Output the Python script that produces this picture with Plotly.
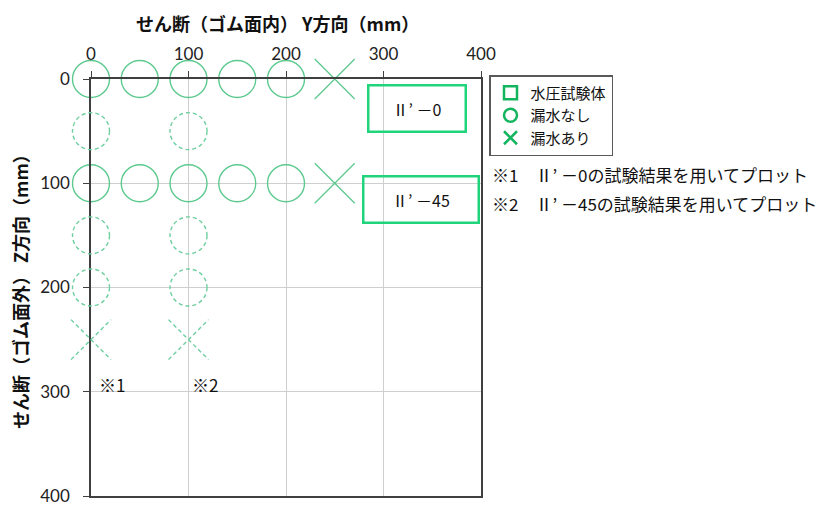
import plotly.graph_objects as go

# ---------------- data ----------------
tick_vals = [0, 100, 200, 300, 400]

# solid circles: no leak (measured)
ok_x = [0, 50, 100, 150, 200, 0, 50, 100, 150, 200]
ok_y = [0, 0, 0, 0, 0, 100, 100, 100, 100, 100]
# solid crosses: leak (measured)
leak_x = [250, 250]
leak_y = [0, 100]
# dashed circles: no leak (plotted from test results)
ok_ref_x = [0, 0, 0, 100, 100, 100]
ok_ref_y = [50, 150, 200, 50, 150, 200]
# dashed crosses: leak (plotted from test results)
leak_ref_x = [0, 100]
leak_ref_y = [250, 250]
# specimen boxes
box_labels = ["Ⅱ’ －0", "Ⅱ’ －45"]
box_x = [334, 338]
box_y = [28.5, 116]
box_w = [95, 113]
# reference marks
ref_labels = ["※1", "※2"]
ref_x = [6, 102]
ref_y = [293, 293]
# notes
notes = ["※1　Ⅱ’ －0の試験結果を用いてプロット", "※2　Ⅱ’ －45の試験結果を用いてプロット"]
legend_names = ["水圧試験体", "漏水なし", "漏水あり"]
x_title = "せん断（ゴム面内） Y方向（mm）"
y_title = "せん断（ゴム面外） Z方向（mm）"

# ---------------- layout geometry (pixels, page coordinates) ----------------
OFF = 8                      # default page body margin around the figure
W, H = 824 - OFF, 507 - OFF  # figure size so that it fills the window
L, R, T, B = 91 - OFF, 481 - OFF, 79 - OFF, 496 - OFF
kx = 400 / (R - L)
ky = 400 / (B - T)


def px(p):
    return (p - OFF) / W


def py(p):
    return 1 - (p - OFF) / H


C_MARK = "#5cc98e"
C_DASH = "#6fcfa0"
C_BOX = "#1fd47a"
C_LEG = "#12b45e"
JP = "Noto Sans CJK JP"
SANS = "Lato, Noto Sans CJK JP"

fig = go.Figure()

fig.add_trace(go.Scatter(x=ok_x, y=ok_y, mode="markers", showlegend=False, cliponaxis=False,
                         hoverinfo="skip",
                         marker=dict(symbol="circle-open", size=37, color=C_MARK,
                                     line=dict(width=1.4, color=C_MARK))))
fig.add_trace(go.Scatter(x=leak_x, y=leak_y, mode="markers", showlegend=False, cliponaxis=False,
                         hoverinfo="skip",
                         marker=dict(symbol="x-thin-open", size=40, color=C_MARK,
                                     line=dict(width=1.3, color=C_MARK))))

# legend-only entries
for name, sym in zip(legend_names, ["square-open", "circle-open", "x-thin-open"]):
    fig.add_trace(go.Scatter(x=[None], y=[None], mode="markers", name=name,
                             marker=dict(symbol=sym, size=13, color=C_LEG,
                                         line=dict(width=2.5, color=C_LEG))))

# helper (invisible) full-figure axes so that dashed marks are not clipped
fig.add_trace(go.Scatter(x=[None], y=[None], xaxis="x2", yaxis="y2", showlegend=False,
                         hoverinfo="skip"))

shapes = []
for xv, yv in zip(ok_ref_x, ok_ref_y):
    shapes.append(dict(type="circle", xref="x2", yref="y2", xsizemode="pixel", ysizemode="pixel",
                       xanchor=xv, yanchor=yv, x0=-18.5, x1=18.5, y0=-18.5, y1=18.5,
                       line=dict(color=C_DASH, width=1.4, dash="4px,3px")))
for xv, yv in zip(leak_ref_x, leak_ref_y):
    for s in (1, -1):
        shapes.append(dict(type="line", xref="x2", yref="y2", xsizemode="pixel", ysizemode="pixel",
                           xanchor=xv, yanchor=yv, x0=-20, x1=20, y0=-20 * s, y1=20 * s,
                           line=dict(color=C_DASH, width=1.4, dash="4px,3px")))

annotations = []
for lab, xv, yv, w in zip(box_labels, box_x, box_y, box_w):
    annotations.append(dict(x=xv, y=yv, xref="x", yref="y", text=lab, showarrow=False,
                            font=dict(family=JP, size=16, color="#111"),
                            bordercolor=C_BOX, borderwidth=2.5, borderpad=0,
                            width=w, height=44, bgcolor="rgba(0,0,0,0)"))
for lab, xv, yv in zip(ref_labels, ref_x, ref_y):
    annotations.append(dict(x=xv, y=yv, xref="x", yref="y", text=lab, showarrow=False,
                            xanchor="left", font=dict(family=JP, size=17, color="#111")))
for i, t in enumerate(notes):
    annotations.append(dict(x=px(490), y=py(174 + 29 * i), xref="paper", yref="paper",
                            text=t, showarrow=False, xanchor="left", yanchor="middle",
                            font=dict(family=JP, size=17, color="#111")))
annotations.append(dict(x=px(277), y=py(23), xref="paper", yref="paper",
                        text="<b>" + x_title + "</b>", showarrow=False,
                        xanchor="center", yanchor="middle",
                        font=dict(family=JP, size=18, color="#111")))
annotations.append(dict(x=px(20), y=py(287), xref="paper", yref="paper",
                        text="<b>" + y_title + "</b>", showarrow=False, textangle=-90,
                        xanchor="center", yanchor="middle",
                        font=dict(family=JP, size=18, color="#111")))

axis_common = dict(tickvals=tick_vals, ticks="outside", ticklen=6, tickcolor="#404040",
                   showgrid=True, gridcolor="#cfcfcf", gridwidth=1, showline=True,
                   linecolor="#404040", linewidth=1.5, mirror=True, zeroline=False,
                   automargin=False, tickfont=dict(family=SANS, size=17, color="#222"))

fig.update_layout(
    width=W, height=H,
    margin=dict(l=0, r=0, t=0, b=0, autoexpand=False),
    paper_bgcolor="white", plot_bgcolor="rgba(0,0,0,0)",
    shapes=shapes, annotations=annotations,
    xaxis=dict(side="top", range=[0, 400], domain=[L / W, R / W], anchor="y",
               ticklabelstandoff=4, **axis_common),
    yaxis=dict(range=[400, 0], domain=[1 - B / H, 1 - T / H], anchor="x",
               ticklabelstandoff=10, **axis_common),
    xaxis2=dict(domain=[0, 1], range=[-L * kx, 400 + (W - R) * kx], visible=False,
                anchor="y2", fixedrange=True),
    yaxis2=dict(domain=[0, 1], range=[400 + (H - B) * ky, -T * ky], visible=False,
                anchor="x2", fixedrange=True),
    legend=dict(x=px(489), y=py(75), xanchor="left", yanchor="top", bgcolor="white",
                bordercolor="#595959", borderwidth=1.5, itemwidth=30,
                font=dict(family=JP, size=15, color="#111"), tracegroupgap=0),
)

fig.write_html("out.html")
